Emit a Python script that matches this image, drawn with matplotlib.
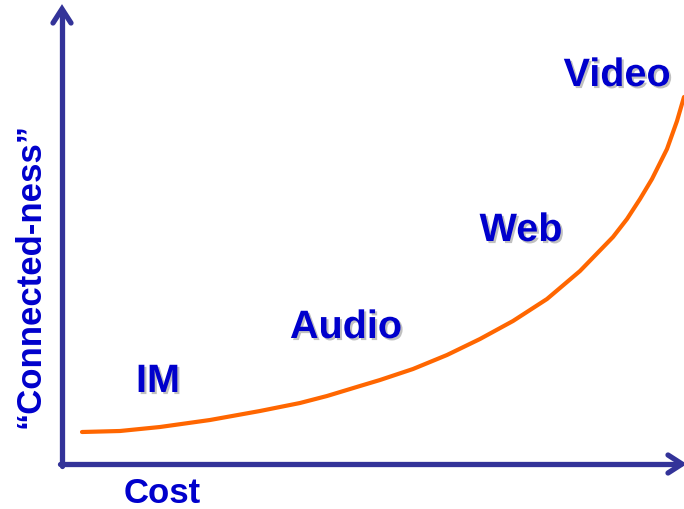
import matplotlib
matplotlib.use("Agg")
import matplotlib.pyplot as plt
import matplotlib.patheffects as pe

# Curve in pixel-like coordinates (x: cost, y: connected-ness; y measured from top)
curve_x = [82, 120, 160, 210, 260, 300, 327, 360, 380, 413, 447, 480, 513,
           547, 580, 613, 627, 640, 652, 667, 677, 684]
curve_y = [433, 432, 428, 421, 412, 404, 397, 387, 381, 370, 356, 340, 322,
           300, 272, 238, 220, 200, 180, 150, 122, 98]

labels = ["IM", "Audio", "Web", "Video"]
label_x = [158, 346, 521, 617]
label_y = [393, 339, 242, 87]

W, H = 684, 510
fig = plt.figure(figsize=(W / 100, H / 100), dpi=100)
ax = fig.add_axes([0, 0, 1, 1])
ax.set_xlim(0, W)
ax.set_ylim(H, 0)
ax.axis("off")

axis_col = "#333399"
ax.plot([62, 62], [467, 12], color=axis_col, lw=3.8, solid_capstyle="round")
ax.plot([60, 680], [465, 465], color=axis_col, lw=3.8, solid_capstyle="round")
# arrowheads
ax.plot([53, 62, 71], [24, 10, 24], color=axis_col, lw=3.8,
        solid_capstyle="round", solid_joinstyle="miter")
ax.plot([668, 682, 668], [456, 465, 474], color=axis_col, lw=3.8,
        solid_capstyle="round", solid_joinstyle="miter")

ax.plot(curve_x, curve_y, color="#FF6600", lw=3, solid_capstyle="round",
        solid_joinstyle="round")

for t, x, y in zip(labels, label_x, label_y):
    ax.text(x, y, t, fontsize=28.5, fontweight="bold", color="#0000CC",
            family="Liberation Sans", ha="center", va="baseline",
            path_effects=[pe.SimplePatchShadow(offset=(1.5, -1.5),
                                               shadow_rgbFace="#c0c0c0", alpha=1.0),
                          pe.Normal()])

ax.text(162, 503, "Cost", fontsize=25, fontweight="bold", color="#0000CC",
        family="Liberation Sans", ha="center", va="baseline")
ax.text(30, 275, "\u201cConnected-ness\u201d", fontsize=25, fontweight="bold",
        color="#0000CC", family="Liberation Sans", ha="center", va="center",
        rotation=90)

fig.savefig("out.png", dpi=100)
